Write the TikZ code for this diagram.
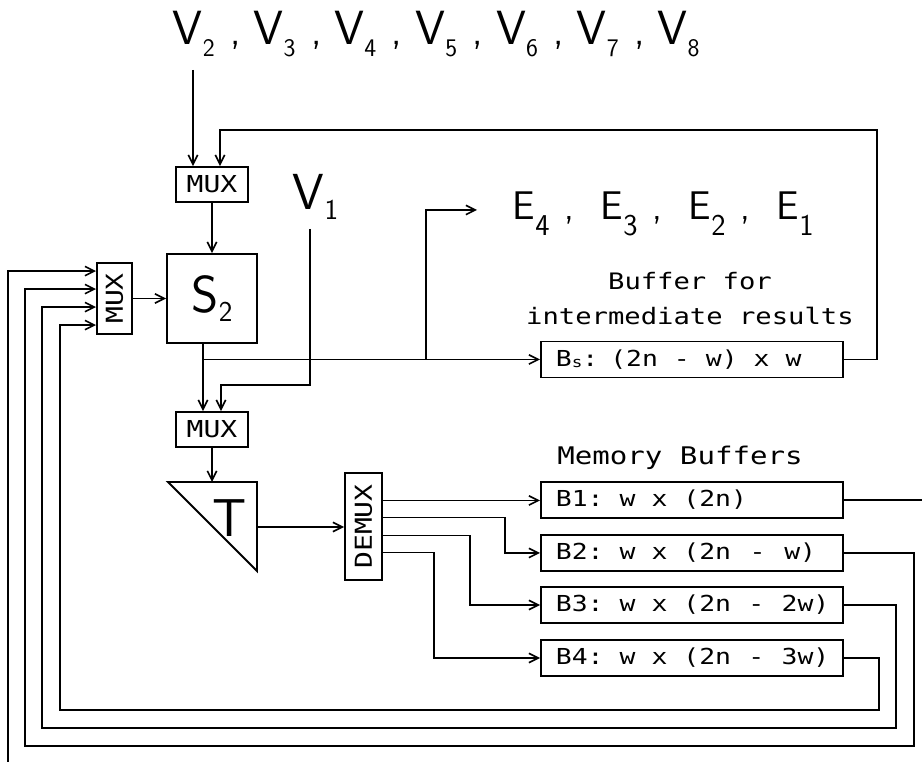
\documentclass[tikz,border=0pt]{standalone}
\usepackage{fontspec}
\usetikzlibrary{arrows.meta,calc}
\newfontfamily\hf[FakeStretch=1.2]{DejaVu Sans Mono}
\newcommand{\fs}[1]{\fontsize{#1}{#1}\selectfont}
\newcommand{\lo}[3]{\raisebox{-#2}{\fs{#1}#3}}
\newcommand{\sk}{\hspace{12pt}}
\newcommand{\Vg}[1]{\makebox[60.6pt][l]{\rlap{V\lo{19pt}{9pt}{#1}}\hspace{43pt}{\fs{30pt},}}}
\newcommand{\Eg}[1]{\makebox[66pt][l]{\rlap{E\lo{22.7pt}{12pt}{#1}}\hspace{39pt}{\fs{28pt},}}}
\begin{document}
\begin{tikzpicture}[x=0.75pt,y=-0.75pt,line width=1.3pt,
  blk/.style={draw,line width=1.4pt,inner sep=0pt,font=\hf\fs{17.5pt}},
  buf/.style={draw,line width=1.4pt,anchor=west,minimum width=226.5pt,minimum height=27pt,
    text width=204pt,align=left,inner xsep=11.25pt,inner ysep=0pt,font=\hf\fs{16.5pt}},
  arr/.style={-{Straight Barb[length=7pt,width=7pt,line width=1.2pt]}},
  lbl/.style={inner sep=0pt,font=\hf},
  big/.style={inner sep=0pt,font=\sffamily}]
\useasboundingbox (0,0) rectangle (922,762);

% texts
\node[big,anchor=base west,font=\sffamily\fs{36pt}] (vtop) at (172,45)
  {\Vg{2}\Vg{3}\Vg{4}\Vg{5}\Vg{6}\Vg{7}V\lo{19pt}{9pt}{8}};
\node[big,anchor=base west,font=\sffamily\fs{38pt}] (v1) at (292,210) {V\lo{21.6pt}{7.5pt}{1}};
\node[big,anchor=base west,font=\sffamily\fs{30pt}] (etext) at (512,220)
  {\Eg{4}\Eg{3}\Eg{2}E\lo{22.7pt}{12pt}{1}};
\node[lbl,anchor=base,font=\hf\fs{17pt}] (bfor) at (690,290) {Buffer for};
\node[lbl,anchor=base,font=\hf\fs{17pt}] (bint) at (690,325) {intermediate results};
\node[lbl,anchor=base,font=\hf\fs{18.2pt}] (mem) at (680,465) {Memory Buffers};

% blocks
\node[blk,minimum width=54pt,minimum height=26.25pt] (mux1) at (212,184.5) {MUX};
\node[blk,minimum width=67.5pt,minimum height=66.75pt,font=\sffamily\fs{39pt}] (s2) at (212,298.5)
  {S\lo{21.6pt}{6.75pt}{2}};
\node[blk,minimum width=26.25pt,minimum height=53.25pt] (mux2) at (114.5,298.5) {\rotatebox{90}{MUX}};
\node[blk,minimum width=54pt,minimum height=26.25pt] (mux3) at (212,429.5) {MUX};
\draw[line width=1.4pt] (168,482) coordinate (tl) -- (257,482) coordinate (tr) -- (257,571) coordinate (tb) -- cycle;
\node[big,font=\sffamily\fs{40pt}] (tlab) at (229.5,518) {T};
\coordinate (ttop) at (212,482);
\coordinate (tout) at (257,527);
\node[blk,minimum width=27.75pt,minimum height=80.25pt] (demux) at (363.5,526.5) {\rotatebox{90}{DEMUX}};

\node[buf] (bs) at (540,359.5) {\mbox{B\lo{11pt}{1pt}{s}:\hspace{9pt}(2n\sk-\sk w)\sk x\sk w}};
\node[buf] (b1) at (540,500) {\mbox{B1:\sk w\sk x\sk (2n)}};
\node[buf] (b2) at (540,553) {\mbox{B2:\sk w\sk x\sk (2n\hspace{14pt}-\hspace{14pt}w)}};
\node[buf] (b3) at (540,605) {\mbox{B3:\sk w\sk x\sk (2n\hspace{13pt}-\hspace{13pt}2w)}};
\node[buf] (b4) at (540,658) {\mbox{B4:\sk w\sk x\sk (2n\hspace{13pt}-\hspace{13pt}3w)}};

% connectors
\coordinate (vin) at (193,70);
\draw[arr] (vin) -- (vin |- mux1.north);
\coordinate (fbR) at (877,130);
\draw[arr] (bs.east) -| (fbR) -| ($(mux1.north)+(8,0)$);
\draw[arr] (mux1) -- (s2);
\draw[arr] (mux2.east) -- (mux2.east -| s2.west);
\coordinate (s2o) at ($(s2.south)+(-9,0)$);
\draw[arr] (s2o) -- (s2o |- mux3.north);
\coordinate (j1) at (s2o |- bs.west);
\draw[arr] (j1) -- (bs.west);
\path (bs.west) ++(-114,0) coordinate (j2);
\coordinate (etip) at (477,210);
\draw[arr] (j2) |- (etip);
\coordinate (v1o) at (310,229);
\coordinate (m3in) at ($(mux3.north)+(9,0)$);
\draw[arr] (v1o) |- ($(m3in)+(0,-26)$) -- (m3in);
\draw[arr] (mux3.south) -- (ttop);
\draw[arr] (tout) -- (tout -| demux.west);

\path (demux.east) ++(0,-26) coordinate (d1) ++(0,17) coordinate (d2) ++(0,18) coordinate (d3) ++(0,17) coordinate (d4);
\draw[arr] (d1) -- (d1 -| b1.west);
\draw[arr] (d2) -- ++(122,0) |- (b2.west);
\draw[arr] (d3) -- ++(87,0) |- (b3.west);
\draw[arr] (d4) -- ++(51,0) |- (b4.west);

\path (mux2.north west) ++(0,9) coordinate (m2a) ++(0,18) coordinate (m2b) ++(0,18) coordinate (m2c) ++(0,18) coordinate (m2d);
\draw (b1.east) -- ++(80,0);
\coordinate (L0) at (8,762);
\draw[arr] (L0) |- (m2a);
\draw[arr] (b2.east) -- ++(70,0) -- ++(0,193) -| ($(m2b)+(-71,0)$) -- (m2b);
\draw[arr] (b3.east) -- ++(52,0) -- ++(0,123) -| ($(m2c)+(-54,0)$) -- (m2c);
\draw[arr] (b4.east) -- ++(35,0) -- ++(0,52) -| ($(m2d)+(-36,0)$) -- (m2d);
\end{tikzpicture}
\end{document}
